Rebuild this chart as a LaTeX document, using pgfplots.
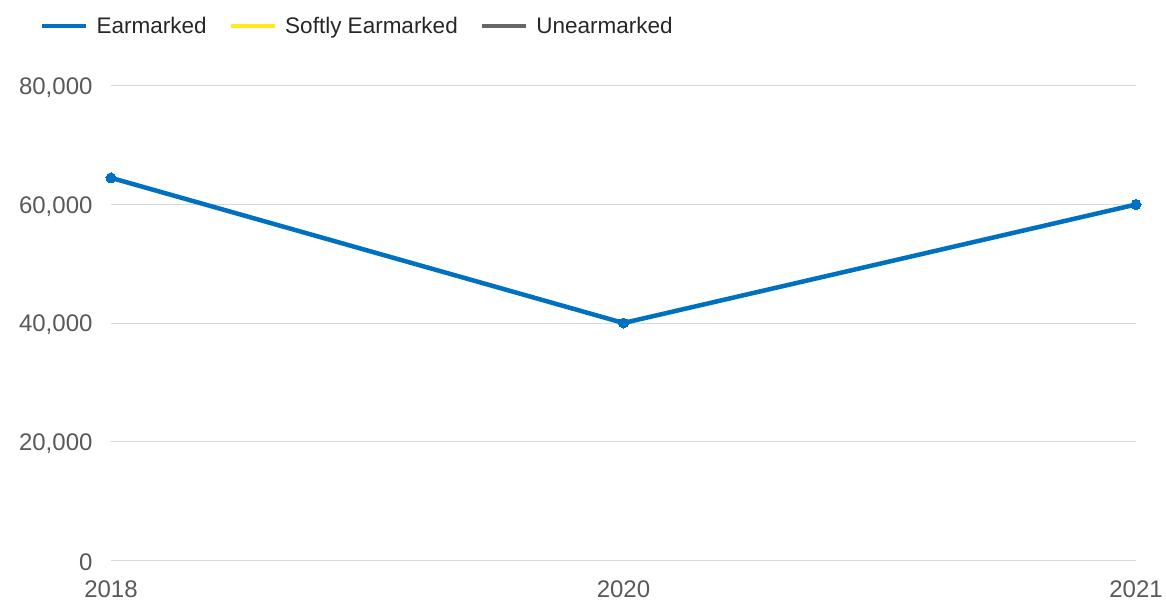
\documentclass[border=0pt]{standalone}
\usepackage{pgfplots}
\pgfplotsset{compat=1.18}
\usepackage{fontspec}
\setmainfont{Liberation Sans}
\definecolor{earblue}{HTML}{0070C0}
\definecolor{softyellow}{HTML}{FFEB1A}
\definecolor{unegray}{HTML}{666666}
\definecolor{gridgray}{HTML}{D9D9D9}
\definecolor{labgray}{HTML}{595959}
\begin{document}
\begin{tikzpicture}
\path[use as bounding box] (-111pt,-43pt) rectangle (1055pt,560pt);
\begin{axis}[
  at={(0pt,0pt)}, anchor=south west,
  scale only axis, width=1025pt, height=474pt,
  xmin=0, xmax=2, ymin=0, ymax=80000,
  xtick={0,1,2}, xticklabels={2018,2020,2021},
  ytick={0,20000,40000,60000,80000},
  scaled y ticks=false,
  /pgf/number format/.cd, 1000 sep={,}, assume math mode=true,
  /pgfplots/.cd,
  axis line style={draw=none},
  major tick length=0pt,
  ymajorgrids, grid style={gridgray, line width=1pt},
  tick label style={labgray, font=\fontsize{24}{28}\selectfont},
  xticklabel style={yshift=-17pt},
  yticklabel style={xshift=-15pt, yshift=-2pt},
  clip=false,
  legend columns=3,
  legend style={draw=none, fill=none, at={(0,1)}, anchor=west, xshift=-74pt, yshift=60pt,
    font=\fontsize{22.5}{26}\selectfont, text=black!85,
    /tikz/every odd column/.append style={column sep=6pt},
    /tikz/every even column/.append style={column sep=20pt}},
  legend image code/.code={\draw[#1, line width=4.5pt] (0pt,0pt) -- (44pt,0pt);},
]
\addplot[earblue, line width=4.5pt, mark=*, mark size=5pt, mark options={line width=0pt}]
  coordinates {(0,64500) (1,40000) (2,60000)};
\addlegendentry{Earmarked}
\addlegendimage{softyellow}
\addlegendentry{Softly Earmarked}
\addlegendimage{unegray}
\addlegendentry{Unearmarked}
\end{axis}
\end{tikzpicture}
\end{document}
